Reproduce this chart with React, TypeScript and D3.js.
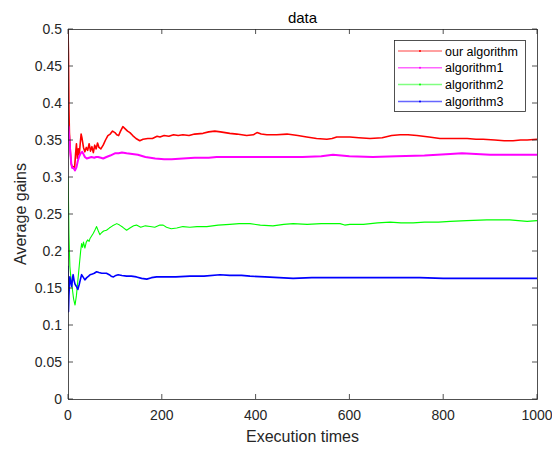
import React from "react";
import * as d3 from "d3";

const seriesNames = ["our algorithm", "algorithm1", "algorithm2", "algorithm3"];
const seriesColors = ["#ff0000", "#ff00ff", "#00ff00", "#0000ff"];
const legendColors = ["#ff8080", "#ff66ff", "#80ff80", "#6666ff"];
const seriesWidths = [1.6, 2, 1.1, 1.6];

const ourAlgorithm: [number, number][] = [[0,0.5],[1,0.465],[2,0.393],[3,0.36],[5,0.335],[7,0.318],[9,0.313],[12,0.314],[14,0.312],[16,0.33],[18,0.345],[20,0.325],[22,0.338],[24,0.33],[26,0.345],[28,0.358],[30,0.352],[33,0.34],[36,0.334],[39,0.34],[42,0.336],[45,0.345],[48,0.335],[51,0.341],[54,0.333],[57,0.343],[60,0.338],[63,0.346],[66,0.34],[70,0.338],[75,0.343],[80,0.35],[85,0.356],[90,0.358],[95,0.362],[100,0.36],[104,0.357],[108,0.356],[112,0.362],[117,0.368],[122,0.365],[127,0.362],[132,0.36],[138,0.356],[145,0.352],[153,0.349],[160,0.351],[170,0.352],[180,0.352],[190,0.355],[196,0.354],[205,0.356],[215,0.355],[225,0.357],[235,0.356],[245,0.357],[258,0.356],[270,0.358],[288,0.359],[300,0.361],[313,0.362],[325,0.361],[345,0.359],[360,0.358],[381,0.356],[395,0.357],[403,0.36],[412,0.358],[424,0.357],[445,0.357],[467,0.358],[490,0.356],[509,0.354],[530,0.352],[552,0.351],[563,0.352],[573,0.354],[590,0.354],[601,0.354],[620,0.353],[644,0.352],[670,0.353],[690,0.356],[708,0.357],[725,0.357],[744,0.356],[770,0.354],[793,0.352],[820,0.352],[851,0.352],[870,0.351],[885,0.351],[910,0.35],[930,0.349],[949,0.349],[965,0.35],[979,0.35],[1000,0.351]];

const algorithm1: [number, number][] = [[0,0.37],[1,0.368],[3,0.35],[5,0.332],[7,0.318],[9,0.312],[12,0.312],[15,0.309],[18,0.313],[21,0.322],[24,0.328],[27,0.332],[30,0.334],[33,0.331],[36,0.327],[40,0.325],[45,0.326],[50,0.327],[56,0.326],[60,0.327],[64,0.327],[70,0.326],[75,0.325],[82,0.327],[90,0.329],[100,0.332],[108,0.332],[115,0.333],[125,0.332],[137,0.331],[149,0.33],[165,0.327],[186,0.325],[205,0.324],[221,0.324],[245,0.325],[270,0.326],[300,0.326],[317,0.327],[350,0.327],[399,0.327],[450,0.327],[500,0.327],[540,0.328],[565,0.33],[600,0.328],[650,0.327],[700,0.328],[760,0.329],[815,0.331],[840,0.332],[870,0.331],[900,0.33],[950,0.33],[1000,0.33]];

const algorithm2: [number, number][] = [[0,0.3],[1,0.27],[2,0.224],[3,0.2],[4,0.179],[6,0.165],[8,0.155],[10,0.145],[12,0.135],[15,0.127],[18,0.14],[21,0.16],[24,0.18],[27,0.2],[29,0.21],[31,0.205],[33,0.212],[36,0.204],[39,0.212],[42,0.215],[45,0.213],[47,0.217],[50,0.22],[54,0.224],[58,0.229],[61,0.233],[64,0.228],[68,0.222],[72,0.225],[76,0.227],[82,0.228],[88,0.231],[95,0.234],[104,0.237],[110,0.235],[117,0.232],[125,0.228],[132,0.231],[140,0.234],[146,0.235],[155,0.232],[165,0.234],[175,0.233],[185,0.232],[196,0.235],[203,0.235],[210,0.232],[220,0.23],[232,0.231],[245,0.233],[260,0.232],[275,0.233],[296,0.233],[320,0.235],[345,0.236],[365,0.237],[388,0.237],[410,0.235],[437,0.234],[460,0.236],[480,0.237],[510,0.236],[540,0.237],[565,0.237],[580,0.237],[590,0.235],[601,0.236],[630,0.236],[660,0.238],[687,0.239],[710,0.238],[736,0.238],[760,0.239],[790,0.239],[815,0.24],[850,0.241],[893,0.242],[920,0.242],[942,0.242],[960,0.241],[979,0.24],[1000,0.241]];

const algorithm3: [number, number][] = [[0,0.18],[1,0.118],[2,0.14],[4,0.165],[6,0.158],[8,0.152],[10,0.165],[11,0.168],[13,0.16],[15,0.155],[18,0.152],[21,0.148],[24,0.155],[27,0.163],[29,0.168],[32,0.165],[36,0.161],[40,0.164],[44,0.166],[47,0.168],[52,0.169],[56,0.17],[61,0.172],[66,0.171],[72,0.17],[78,0.17],[82,0.17],[88,0.168],[92,0.166],[97,0.165],[102,0.167],[107,0.168],[115,0.167],[125,0.166],[135,0.166],[146,0.165],[157,0.163],[168,0.162],[178,0.164],[189,0.165],[205,0.165],[230,0.165],[260,0.166],[290,0.166],[324,0.168],[345,0.167],[370,0.167],[388,0.166],[420,0.165],[450,0.164],[480,0.163],[520,0.164],[560,0.164],[600,0.164],[650,0.164],[700,0.164],[750,0.164],[800,0.163],[850,0.163],[900,0.163],[950,0.163],[1000,0.163]];

const allSeries = [ourAlgorithm, algorithm1, algorithm2, algorithm3];

const xTicks = [0, 200, 400, 600, 800, 1000];
const yTicks = [0, 0.05, 0.1, 0.15, 0.2, 0.25, 0.3, 0.35, 0.4, 0.45, 0.5];
const yTickLabels = ["0", "0.05", "0.1", "0.15", "0.2", "0.25", "0.3", "0.35", "0.4", "0.45", "0.5"];

const W = 552, H = 449;
const L = 68, R = 537, T = 29, B = 399;
const FONT = "'Liberation Sans', Arial, sans-serif";
const AX = "#262626";

export default function App() {
  const x = d3.scaleLinear().domain([0, 1000]).range([L, R]);
  const y = d3.scaleLinear().domain([0, 0.5]).range([B, T]);
  const line = d3.line<[number, number]>().x(d => x(d[0])).y(d => y(d[1]));
  const tl = 5;
  const legX = 394, legY = 40, legW = 131, legH = 71;
  return (
    <svg width={W} height={H} style={{ position: "absolute", left: 0, top: 0, background: "#fff" }} fontFamily={FONT}>
      <rect x={0} y={0} width={W} height={H} fill="#fff" />
      <defs>
        <clipPath id="plot"><rect x={L} y={T} width={R - L} height={B - T} /></clipPath>
      </defs>
      <g clipPath="url(#plot)">
        {allSeries.map((s, i) => (
          <path key={i} d={line(s) || ""} fill="none" stroke={seriesColors[i]} strokeWidth={seriesWidths[i]} strokeLinejoin="round" />
        ))}
      </g>
      <rect x={L + 0.5} y={T + 0.5} width={R - L} height={B - T} fill="none" stroke={AX} strokeWidth={0.8} />
      {xTicks.map(t => (
        <g key={"x" + t}>
          <line x1={x(t)} x2={x(t)} y1={B} y2={B - tl} stroke={AX} strokeWidth={0.8} />
          <line x1={x(t)} x2={x(t)} y1={T} y2={T + tl} stroke={AX} strokeWidth={0.8} />
          <text x={x(t)} y={420} textAnchor="middle" fontSize={14} fill={AX}>{t}</text>
        </g>
      ))}
      {yTicks.map((t, i) => (
        <g key={"y" + i}>
          <line x1={L} x2={L + tl} y1={y(t)} y2={y(t)} stroke={AX} strokeWidth={0.8} />
          <line x1={R} x2={R - tl} y1={y(t)} y2={y(t)} stroke={AX} strokeWidth={0.8} />
          <text x={62} y={y(t) + 5} textAnchor="end" fontSize={14} fill={AX}>{yTickLabels[i]}</text>
        </g>
      ))}
      <text x={(L + R) / 2} y={23} textAnchor="middle" fontSize={15} fill="#000">data</text>
      <text x={(L + R) / 2} y={442} textAnchor="middle" fontSize={16} fill={AX}>Execution times</text>
      <text transform={`translate(26, ${(T + B) / 2}) rotate(-90)`} textAnchor="middle" fontSize={16} fill={AX}>Average gains</text>
      <rect x={legX + 0.5} y={legY + 0.5} width={legW} height={legH} fill="#fff" stroke={AX} strokeWidth={0.8} />
      {seriesNames.map((n, i) => {
        const ry = 51 + i * 16.8;
        return (
          <g key={n}>
            <line x1={398} x2={442} y1={ry} y2={ry} stroke={legendColors[i]} strokeWidth={1.5} />
            <circle cx={420} cy={ry} r={1} fill={seriesColors[i]} />
            <text x={445} y={ry + 4.5} fontSize={12.5} fill="#000">{n}</text>
          </g>
        );
      })}
    </svg>
  );
}
